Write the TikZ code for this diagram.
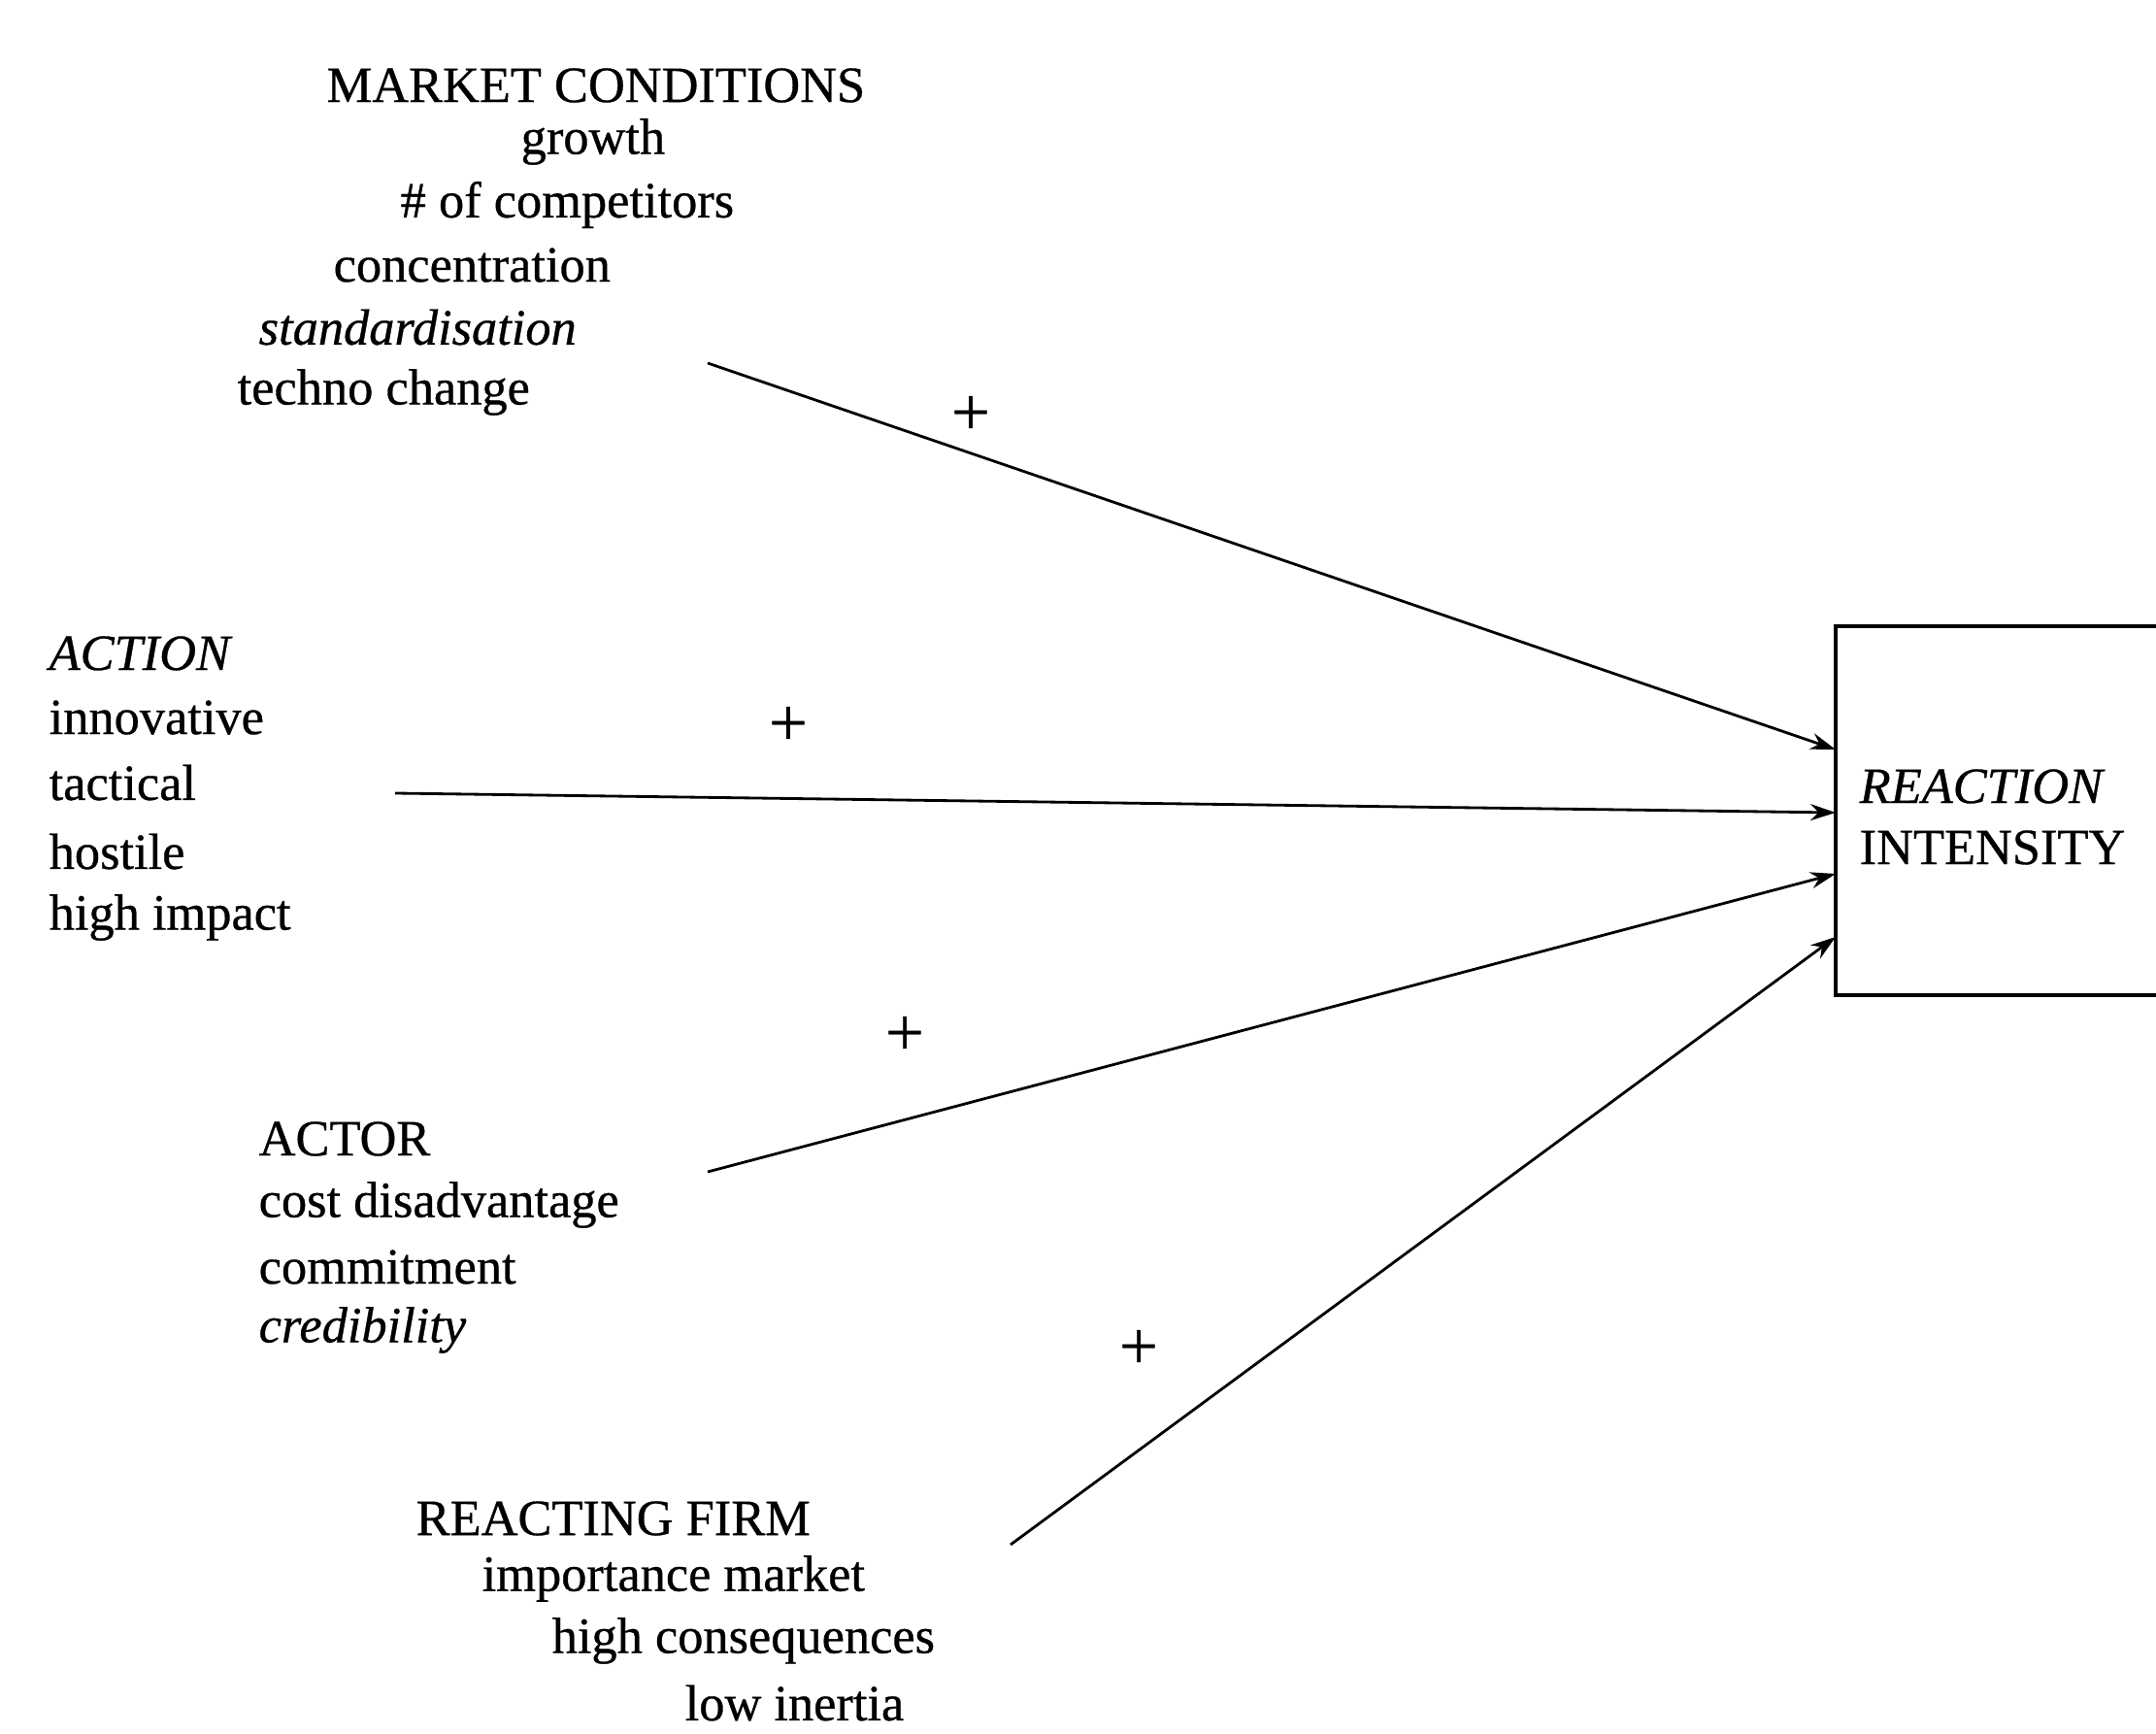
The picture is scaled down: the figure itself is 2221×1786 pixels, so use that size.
\documentclass[tikz,border=0pt]{standalone}
\usepackage{fontspec}
\setmainfont{Liberation Serif}[FakeBold=0.6]
\usetikzlibrary{arrows.meta}
\begin{document}
\begin{tikzpicture}[x=0.01cm,y=-0.01cm,
  lbl/.style={anchor=west,inner sep=0pt,font=\fontsize{14.9}{17}\selectfont},
  ttl/.style={lbl},
  link/.style={line width=0.8pt,-{Stealth[length=0.26cm,width=0.17cm]}},
  sign/.style={inner sep=0pt,font=\fontsize{20}{22}\selectfont},
  frame/.style={line width=1.3pt}]
\useasboundingbox (0,0) rectangle (2221,1786);

% market conditions
\node[ttl] (mc)   at (336,88)  {MARKET CONDITIONS};
\node[lbl] (mc1)  at (536,146) {growth};
\node[lbl] (mc2)  at (412,211) {\# of competitors};
\node[lbl] (mc3)  at (343,273) {concentration};
\node[lbl] (mc4)  at (266,337) {\itshape standardisation};
\node[lbl] (mc5)  at (244,404) {techno change};

% action
\node[ttl] (ac)   at (50,673)  {\itshape ACTION};
\node[lbl] (ac1)  at (50,739)  {innovative};
\node[lbl] (ac2)  at (50,806)  {tactical};
\node[lbl] (ac3)  at (50,877)  {hostile};
\node[lbl] (ac4)  at (50,945)  {high impact};

% actor
\node[ttl] (at)   at (266,1173) {ACTOR};
\node[lbl] (at1)  at (266,1241) {cost disadvantage};
\node[lbl] (at2)  at (266,1305) {commitment};
\node[lbl] (at3)  at (266,1370) {\itshape credibility};

% reacting firm
\node[ttl] (rf)   at (428,1564) {REACTING FIRM};
\node[lbl] (rf1)  at (496,1626) {importance market};
\node[lbl] (rf2)  at (568,1690) {high consequences};
\node[lbl] (rf3)  at (705,1754) {low inertia};

% outcome box, running off the right edge
\draw[frame] (2240,645) -- (1891,645) -- (1891,1025) -- (2240,1025);
\node[lbl] (ri1) at (1915,810) {\itshape REACTION};
\node[lbl] (ri2) at (1915,873) {INTENSITY};

\coordinate (in1) at (1891,772);
\coordinate (in2) at (1891,837);
\coordinate (in3) at (1891,900);
\coordinate (in4) at (1891,965);

\coordinate (s1) at (729,374);
\coordinate (s2) at (407,817);
\coordinate (s3) at (729,1207);
\coordinate (s4) at (1041,1591);

\draw[link] (s1) -- (in1);
\draw[link] (s2) -- (in2);
\draw[link] (s3) -- (in3);
\draw[link] (s4) -- (in4);

\node[sign] (p1) at (1000,428)  {+};
\node[sign] (p2) at (812,748)   {+};
\node[sign] (p3) at (932,1067)  {+};
\node[sign] (p4) at (1173,1390) {+};
\end{tikzpicture}
\end{document}
